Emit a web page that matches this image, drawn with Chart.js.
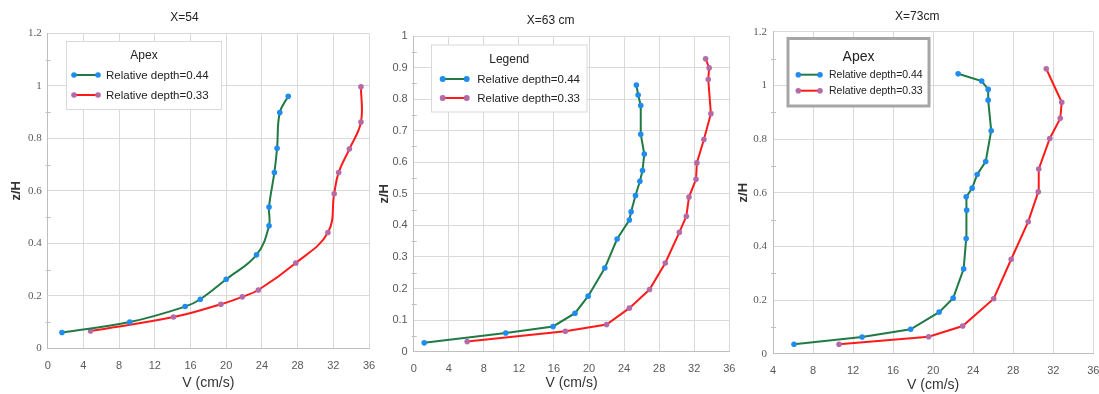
<!DOCTYPE html>
<html>
<head>
<meta charset="utf-8">
<script src="https://cdn.jsdelivr.net/npm/chart.js@4.4.1/dist/chart.umd.min.js"></script>
<style>
html,body{margin:0;padding:0;background:#fff;}
body{width:1099px;height:394px;position:relative;overflow:hidden;}
.p{position:absolute;top:0;height:394px;}
</style>
</head>
<body>
<div class="p" style="left:0;width:380px"><canvas id="c1"></canvas></div>
<div class="p" style="left:372px;width:368px"><canvas id="c2"></canvas></div>
<div class="p" style="left:732px;width:370.4px"><canvas id="c3"></canvas></div>
<script>
// ---- Data ----
const panelTitles = ["X=54", "X=63 cm", "X=73cm"];
const legendTitles = ["Apex", "Legend", "Apex"];
const seriesNames = ["Relative depth=0.44", "Relative depth=0.33"];

// Panel 1 (X=54)
const p1DeepV = [1.6, 9.2, 15.4, 17.1, 20.0, 23.4, 24.8, 24.8, 25.4, 25.7, 26.0, 26.95];
const p1DeepZ = [0.060, 0.100, 0.159, 0.187, 0.263, 0.356, 0.467, 0.538, 0.670, 0.762, 0.898, 0.960];
const p1ShallowV = [4.8, 14.1, 19.4, 21.8, 23.6, 27.8, 31.4, 32.1, 32.6, 33.8, 35.1, 35.1];
const p1ShallowZ = [0.066, 0.119, 0.168, 0.196, 0.222, 0.325, 0.441, 0.589, 0.670, 0.759, 0.862, 0.996];

// Panel 2 (X=63 cm)
const p2DeepV = [1.2, 10.5, 15.9, 18.4, 19.9, 21.8, 23.2, 24.6, 24.8, 25.3, 25.8, 26.1, 26.3, 25.9, 25.9, 25.6, 25.4];
const p2DeepZ = [0.028, 0.059, 0.080, 0.122, 0.176, 0.265, 0.357, 0.417, 0.443, 0.495, 0.540, 0.574, 0.626, 0.689, 0.780, 0.813, 0.845];
const p2ShallowV = [6.1, 17.3, 22.0, 24.6, 26.9, 28.7, 30.3, 31.1, 31.4, 32.2, 32.3, 33.1, 33.9, 33.6, 33.7, 33.3];
const p2ShallowZ = [0.032, 0.065, 0.086, 0.138, 0.197, 0.281, 0.378, 0.429, 0.490, 0.546, 0.598, 0.672, 0.754, 0.862, 0.899, 0.928];

// Panel 3 (X=73cm)
const p3DeepV = [6.1, 12.9, 17.75, 20.6, 22.0, 23.05, 23.3, 23.35, 23.3, 23.9, 24.4, 25.25, 25.8, 25.5, 25.5, 24.85, 22.5];
const p3DeepZ = [0.035, 0.062, 0.091, 0.155, 0.207, 0.316, 0.429, 0.535, 0.585, 0.617, 0.668, 0.716, 0.831, 0.945, 0.985, 1.016, 1.043];
const p3ShallowV = [10.6, 19.55, 22.95, 26.05, 27.8, 29.5, 30.5, 30.55, 31.65, 32.7, 32.85, 31.3];
const p3ShallowZ = [0.035, 0.063, 0.103, 0.205, 0.352, 0.492, 0.603, 0.688, 0.802, 0.877, 0.937, 1.062];

// Axis ticks
const p1XTicks = [0, 4, 8, 12, 16, 20, 24, 28, 32, 36];
const p1YTicks = [0, 0.2, 0.4, 0.6, 0.8, 1, 1.2];
const p2XTicks = [0, 4, 8, 12, 16, 20, 24, 28, 32, 36];
const p2YTicks = [0, 0.1, 0.2, 0.3, 0.4, 0.5, 0.6, 0.7, 0.8, 0.9, 1];
const p3XTicks = [4, 8, 12, 16, 20, 24, 28, 32, 36];
const p3YTicks = [0, 0.2, 0.4, 0.6, 0.8, 1, 1.2];

// ---- Styles ----
const GREEN = '#217a45', BLUE = '#1e8cf0', RED = '#ff1a1a', PURPLE = '#b56aa8';
const GRID = '#d9d9d9', TXT = '#595959';
const SANS = "'Liberation Sans', 'DejaVu Sans', sans-serif";
const SERIF = "'Liberation Serif', 'DejaVu Serif', serif";

function pts(v, z) { return v.map((x, i) => ({x: x, y: z[i]})); }

const legendPlugin = {
  id: 'boxLegend',
  afterDraw(chart) {
    const o = chart.options.plugins.boxLegend;
    if (!o) return;
    const ctx = chart.ctx;
    ctx.save();
    ctx.fillStyle = '#fff';
    ctx.fillRect(o.x, o.y, o.w, o.h);
    ctx.strokeStyle = o.border;
    ctx.lineWidth = o.borderWidth;
    ctx.strokeRect(o.x, o.y, o.w, o.h);
    ctx.fillStyle = '#222';
    ctx.font = o.titleFont;
    ctx.textAlign = 'center';
    ctx.textBaseline = 'middle';
    ctx.fillText(o.title, o.x + o.w / 2, o.titleY);
    chart.data.datasets.forEach((ds, i) => {
      const y = o.rowY[i];
      ctx.strokeStyle = ds.borderColor;
      ctx.lineWidth = 2;
      ctx.beginPath();
      ctx.moveTo(o.lineX0, y);
      ctx.lineTo(o.lineX1, y);
      ctx.stroke();
      ctx.fillStyle = ds.pointBackgroundColor;
      [o.lineX0, o.lineX1].forEach(px => {
        ctx.beginPath();
        ctx.arc(px, y, o.dot, 0, Math.PI * 2);
        ctx.fill();
      });
      ctx.fillStyle = '#222';
      ctx.font = o.font;
      ctx.textAlign = 'left';
      ctx.fillText(ds.label, o.textX, y + 0.5);
    });
    ctx.restore();
  }
};

const minorTickPlugin = {
  id: 'minorTicks',
  afterDraw(chart) {
    const o = chart.options.plugins.minorTicks;
    if (!o) return;
    const ys = chart.scales.y, ctx = chart.ctx, a = chart.chartArea;
    ctx.save();
    ctx.strokeStyle = '#bfbfbf';
    ctx.lineWidth = 1;
    for (let v = ys.min + o.step / 2; v < ys.max; v += o.step) {
      const py = Math.round(ys.getPixelForValue(v)) + 0.5;
      ctx.beginPath();
      ctx.moveTo(a.left - 2, py);
      ctx.lineTo(a.left + 3, py);
      ctx.stroke();
    }
    ctx.restore();
  }
};

function makeChart(id, cfg) {
  const ds = [
    {label: seriesNames[0], data: pts(cfg.dv, cfg.dz), borderColor: GREEN, pointBackgroundColor: BLUE, pointBorderColor: BLUE},
    {label: seriesNames[1], data: pts(cfg.sv, cfg.sz), borderColor: RED, pointBackgroundColor: PURPLE, pointBorderColor: PURPLE}
  ].map(d => Object.assign(d, {
    showLine: true, borderWidth: 2, pointRadius: 2.8, pointBorderWidth: 0, tension: cfg.tension, clip: false
  }));
  const xt = cfg.xTicks, yt = cfg.yTicks;
  return new Chart(document.getElementById(id), {
    type: 'scatter',
    data: {datasets: ds},
    plugins: [legendPlugin, minorTickPlugin],
    options: {
      responsive: true,
      maintainAspectRatio: false,
      animation: false,
      layout: {padding: {left: 0, top: 0, right: cfg.padRight, bottom: 0}},
      plugins: {
        legend: {display: false},
        tooltip: {enabled: false},
        title: {
          display: true, text: cfg.title, color: '#222',
          font: {family: SANS, size: 12, weight: 'normal'},
          padding: {top: cfg.titleTop, bottom: cfg.titleBottom}
        },
        boxLegend: cfg.legend,
        minorTicks: {step: cfg.yStep}
      },
      scales: {
        x: {
          type: 'linear', min: xt[0], max: xt[xt.length - 1],
          afterBuildTicks: s => { s.ticks = xt.map(v => ({value: v})); },
          afterFit: s => { s.height = cfg.xHeight; },
          grid: {color: GRID, drawTicks: true, tickLength: 8, tickColor: 'rgba(0,0,0,0)'},
          border: {color: '#bfbfbf'},
          ticks: {color: TXT, font: {family: SANS, size: 11}, padding: 3, callback: v => String(v)},
          title: {display: true, text: 'V (cm/s)', color: '#333', font: {family: SANS, size: 14}, padding: {top: 0, bottom: cfg.xTitlePad}}
        },
        y: {
          type: 'linear', min: yt[0], max: yt[yt.length - 1],
          afterBuildTicks: s => { s.ticks = yt.map(v => ({value: v})); },
          afterFit: s => { s.width = cfg.yWidth; },
          grid: {color: GRID, drawTicks: false},
          border: {color: '#bfbfbf'},
          ticks: {color: TXT, font: {family: cfg.yFont, size: 11}, padding: 6, callback: v => String(v)},
          title: {display: true, text: 'z/H', color: '#333', font: {family: SANS, size: 13, weight: 'bold'}, padding: {top: cfg.yTitlePad, bottom: 0}}
        }
      }
    }
  });
}

makeChart('c1', {
  title: panelTitles[0], dv: p1DeepV, dz: p1DeepZ, sv: p1ShallowV, sz: p1ShallowZ,
  xTicks: p1XTicks, yTicks: p1YTicks, yStep: 0.2, tension: 0.4, yFont: SERIF,
  padRight: 11, yWidth: 47.7, xHeight: 45.7, titleTop: 10, titleBottom: 8.9, yTitlePad: 9, xTitlePad: 2,
  legend: {x: 66.5, y: 41.5, w: 155, h: 68, border: '#d9d9d9', borderWidth: 1,
    title: legendTitles[0], titleFont: "12px " + SANS, titleY: 56,
    rowY: [75, 95], lineX0: 74, lineX1: 98, textX: 106, dot: 2.8, font: "11.5px " + SANS}
});

makeChart('c2', {
  title: panelTitles[1], dv: p2DeepV, dz: p2DeepZ, sv: p2ShallowV, sz: p2ShallowZ,
  xTicks: p2XTicks, yTicks: p2YTicks, yStep: 0.1, tension: 0, yFont: SANS,
  padRight: 10.7, yWidth: 41.7, xHeight: 42.3, titleTop: 13, titleBottom: 8.6, yTitlePad: 5, xTitlePad: 2,
  legend: {x: 59.5, y: 45, w: 155.5, h: 67, border: '#d9d9d9', borderWidth: 1,
    title: legendTitles[1], titleFont: "12px " + SANS, titleY: 60,
    rowY: [79, 98], lineX0: 70.7, lineX1: 94.7, textX: 105.3, dot: 3, font: "11.5px " + SANS}
});

makeChart('c3', {
  title: panelTitles[2], dv: p3DeepV, dz: p3DeepZ, sv: p3ShallowV, sz: p3ShallowZ,
  xTicks: p3XTicks, yTicks: p3YTicks, yStep: 0.2, tension: 0, yFont: SERIF,
  padRight: 0, yWidth: 41, xHeight: 40.3, titleTop: 9, titleBottom: 8.3, yTitlePad: 4, xTitlePad: 0,
  legend: {x: 56, y: 38.5, w: 141, h: 67.5, border: '#a6a6a6', borderWidth: 3,
    title: legendTitles[2], titleFont: "14px " + SANS, titleY: 57,
    rowY: [74.7, 90.7], lineX0: 66.3, lineX1: 88, textX: 97, dot: 2.8, font: "10.5px " + SANS}
});
</script>
</body>
</html>
